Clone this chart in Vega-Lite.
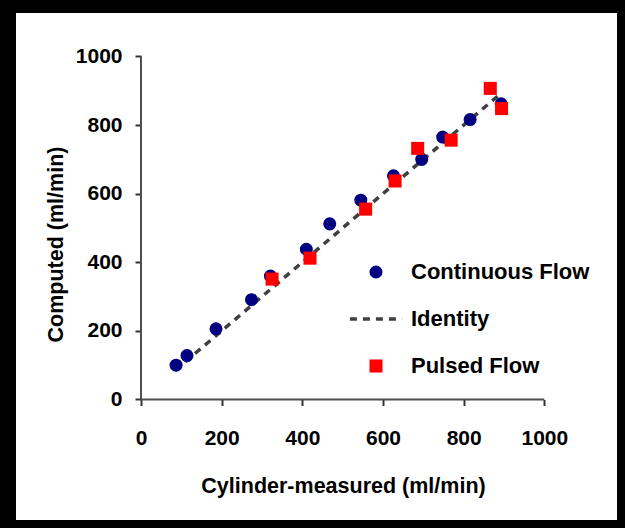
{
  "$schema": "https://vega.github.io/schema/vega-lite/v6.json",
  "autosize": {"type": "none"},
  "width": 601,
  "height": 507,
  "padding": {"left": 16, "top": 13, "right": 8, "bottom": 8},
  "background": "black",
  "config": {
    "view": {"fill": "white", "stroke": null},
    "font": "Liberation Sans",
    "axis": {
      "grid": false,
      "domain": false,
      "tickColor": "#333333",
      "tickWidth": 2,
      "tickSize": 6,
      "format": "d",
      "labelFont": "Liberation Sans",
      "labelFontWeight": "bold",
      "labelFontSize": 21,
      "labelColor": "black",
      "titleFont": "Liberation Sans",
      "titleFontWeight": "bold",
      "titleFontSize": 21.5,
      "titleColor": "black"
    }
  },
  "datasets": {
    "pts": [
      {"x": 87, "y": 100, "series": "Continuous Flow"},
      {"x": 114, "y": 128, "series": "Continuous Flow"},
      {"x": 186, "y": 206, "series": "Continuous Flow"},
      {"x": 274, "y": 291, "series": "Continuous Flow"},
      {"x": 321, "y": 360, "series": "Continuous Flow"},
      {"x": 410, "y": 438, "series": "Continuous Flow"},
      {"x": 468, "y": 512, "series": "Continuous Flow"},
      {"x": 545, "y": 581, "series": "Continuous Flow"},
      {"x": 626, "y": 652, "series": "Continuous Flow"},
      {"x": 696, "y": 700, "series": "Continuous Flow"},
      {"x": 748, "y": 765, "series": "Continuous Flow"},
      {"x": 816, "y": 816, "series": "Continuous Flow"},
      {"x": 893, "y": 862, "series": "Continuous Flow"},
      {"x": 325, "y": 351, "series": "Pulsed Flow"},
      {"x": 419, "y": 412, "series": "Pulsed Flow"},
      {"x": 557, "y": 555, "series": "Pulsed Flow"},
      {"x": 630, "y": 637, "series": "Pulsed Flow"},
      {"x": 686, "y": 732, "series": "Pulsed Flow"},
      {"x": 769, "y": 756, "series": "Pulsed Flow"},
      {"x": 866, "y": 907, "series": "Pulsed Flow"},
      {"x": 894, "y": 848, "series": "Pulsed Flow"}
    ],
    "identity": [
      {"x": 85, "y": 85, "series": "Identity"},
      {"x": 890, "y": 890, "series": "Identity"}
    ],
    "axes": [
      {"x1": 0, "x2": 1000, "y1": 0, "y2": 0},
      {"x1": 0, "x2": 0, "y1": 0, "y2": 1000}
    ]
  },
  "layer": [
    {
      "data": {"name": "axes"},
      "mark": {"type": "rule", "color": "#4d4d4d", "strokeWidth": 2},
      "encoding": {
        "x": {"field": "x1", "type": "quantitative", "scale": {"domain": [-309.9, 1180.2], "nice": false, "zero": false},
          "axis": {"orient": "bottom", "offset": -120.5, "values": [0, 200, 400, 600, 800, 1000], "title": "Cylinder-measured (ml/min)", "labelPadding": 22, "titlePadding": 27, "titleX": 327}},
        "x2": {"field": "x2"},
        "y": {"field": "y1", "type": "quantitative", "scale": {"domain": [-351.3, 1126.7], "nice": false, "zero": false},
          "axis": {"orient": "left", "offset": -125, "values": [0, 200, 400, 600, 800, 1000], "title": "Computed (ml/min)", "labelPadding": 13, "titlePadding": 8, "titleY": 231}},
        "y2": {"field": "y2"}
      }
    },
    {
      "data": {"name": "identity"},
      "mark": {"type": "line", "strokeDash": [7, 6], "strokeWidth": 3.5},
      "encoding": {
        "x": {"field": "x", "type": "quantitative"},
        "y": {"field": "y", "type": "quantitative"},
        "color": {"field": "series", "type": "nominal",
          "scale": {"domain": ["Continuous Flow", "Identity", "Pulsed Flow"], "range": ["#000080", "#404040", "#ff0000"]},
          "legend": {"title": null, "orient": "none", "legendX": 349, "legendY": 248, "padding": 0,
            "labelFontSize": 22, "labelFontWeight": "bold", "labelColor": "black", "labelFont": "Liberation Sans",
            "labelOffset": 24, "labelLimit": 0, "rowPadding": 25, "symbolSize": 170,
            "encode": {"symbols": {"update": {
              "stroke": {"signal": "datum.value === 'Identity' ? '#404040' : 'transparent'"},
              "strokeWidth": {"signal": "datum.value === 'Identity' ? 3.5 : 0"},
              "strokeDash": {"signal": "datum.value === 'Identity' ? [7, 6] : []"},
              "fill": {"signal": "datum.value === 'Identity' ? 'transparent' : (datum.value === 'Pulsed Flow' ? '#ff0000' : '#000080')"},
              "opacity": {"value": 1}
            }}}}
        }
      }
    },
    {
      "data": {"name": "pts"},
      "mark": {"type": "point", "filled": true, "size": 170, "opacity": 1},
      "encoding": {
        "x": {"field": "x", "type": "quantitative"},
        "y": {"field": "y", "type": "quantitative"},
        "color": {"field": "series", "type": "nominal"},
        "shape": {"field": "series", "type": "nominal",
          "scale": {"domain": ["Continuous Flow", "Identity", "Pulsed Flow"], "range": ["circle", "M-4,0H4", "square"]},
          "legend": {"title": null, "orient": "none", "legendX": 349, "legendY": 248, "padding": 0,
            "labelFontSize": 22, "labelFontWeight": "bold", "labelColor": "black", "labelFont": "Liberation Sans",
            "labelOffset": 24, "labelLimit": 0, "rowPadding": 25, "symbolSize": 170,
            "encode": {"symbols": {"update": {
              "stroke": {"signal": "datum.value === 'Identity' ? '#404040' : 'transparent'"},
              "strokeWidth": {"signal": "datum.value === 'Identity' ? 3.5 : 0"},
              "strokeDash": {"signal": "datum.value === 'Identity' ? [7, 6] : []"},
              "fill": {"signal": "datum.value === 'Identity' ? 'transparent' : (datum.value === 'Pulsed Flow' ? '#ff0000' : '#000080')"},
              "opacity": {"value": 1}
            }}}}
        }
      }
    }
  ]
}
